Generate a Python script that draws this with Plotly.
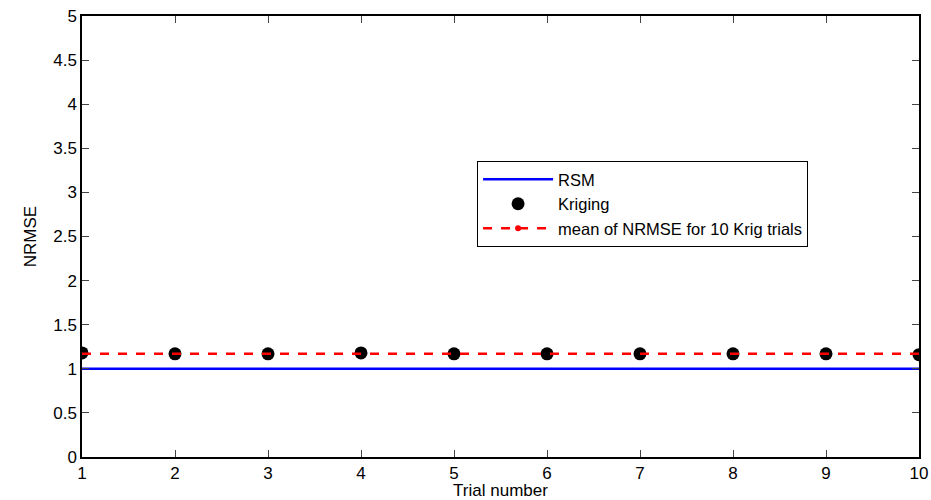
import plotly.graph_objects as go

trials = [1, 2, 3, 4, 5, 6, 7, 8, 9, 10]
rsm_nrmse = [1.0, 1.0, 1.0, 1.0, 1.0, 1.0, 1.0, 1.0, 1.0, 1.0]
kriging_nrmse = [1.18, 1.17, 1.17, 1.18, 1.17, 1.17, 1.17, 1.17, 1.17, 1.16]
mean_krig = [1.17] * 10
y_ticks = [0, 0.5, 1, 1.5, 2, 2.5, 3, 3.5, 4, 4.5, 5]
y_tick_labels = ["0", "0.5", "1", "1.5", "2", "2.5", "3", "3.5", "4", "4.5", "5"]

font_family = "Liberation Sans, Arial, sans-serif"

fig = go.Figure()
fig.add_trace(go.Scatter(x=trials, y=rsm_nrmse, mode="lines", name="RSM",
                         line=dict(color="#0000ff", width=2.5)))
fig.add_trace(go.Scatter(x=trials, y=kriging_nrmse, mode="markers", name="Kriging",
                         marker=dict(color="black", size=13)))
fig.add_trace(go.Scatter(x=trials, y=mean_krig, mode="lines",
                         name="mean of NRMSE for 10 Krig trials", showlegend=False,
                         line=dict(color="#ff0000", width=2.5, dash="dash")))
# legend entry for the mean line (dashed with a dot marker)
fig.add_trace(go.Scatter(x=[None], y=[None], mode="lines+markers",
                         name="mean of NRMSE for 10 Krig trials",
                         line=dict(color="#ff0000", width=2.5, dash="dash"),
                         marker=dict(color="#ff0000", size=6)))

fig.update_layout(
    width=931, height=500,
    margin=dict(l=82, r=12, t=16, b=43),
    plot_bgcolor="white", paper_bgcolor="white",
    font=dict(family=font_family, size=17, color="black"),
    showlegend=True,
    legend=dict(x=0.472, y=0.671, xanchor="left", yanchor="top",
                bgcolor="white", bordercolor="black", borderwidth=1,
                font=dict(size=16.5), tracegroupgap=0, itemwidth=70),
)
fig.update_xaxes(range=[1, 10], tickvals=trials, ticks="inside", ticklen=7,
                 showline=True, linecolor="black", linewidth=1.5, mirror="ticks",
                 showgrid=False, zeroline=False, automargin=False,
                 title=dict(text="Trial number", standoff=0, font=dict(size=17)))
fig.update_yaxes(range=[0, 5], tickvals=y_ticks, ticktext=y_tick_labels,
                 ticks="inside", ticklen=7,
                 showline=True, linecolor="black", linewidth=1.5, mirror="ticks",
                 showgrid=False, zeroline=False, automargin=False,
                 title=dict(text="NRMSE", standoff=12, font=dict(size=17)))

fig.write_html("out.html")
